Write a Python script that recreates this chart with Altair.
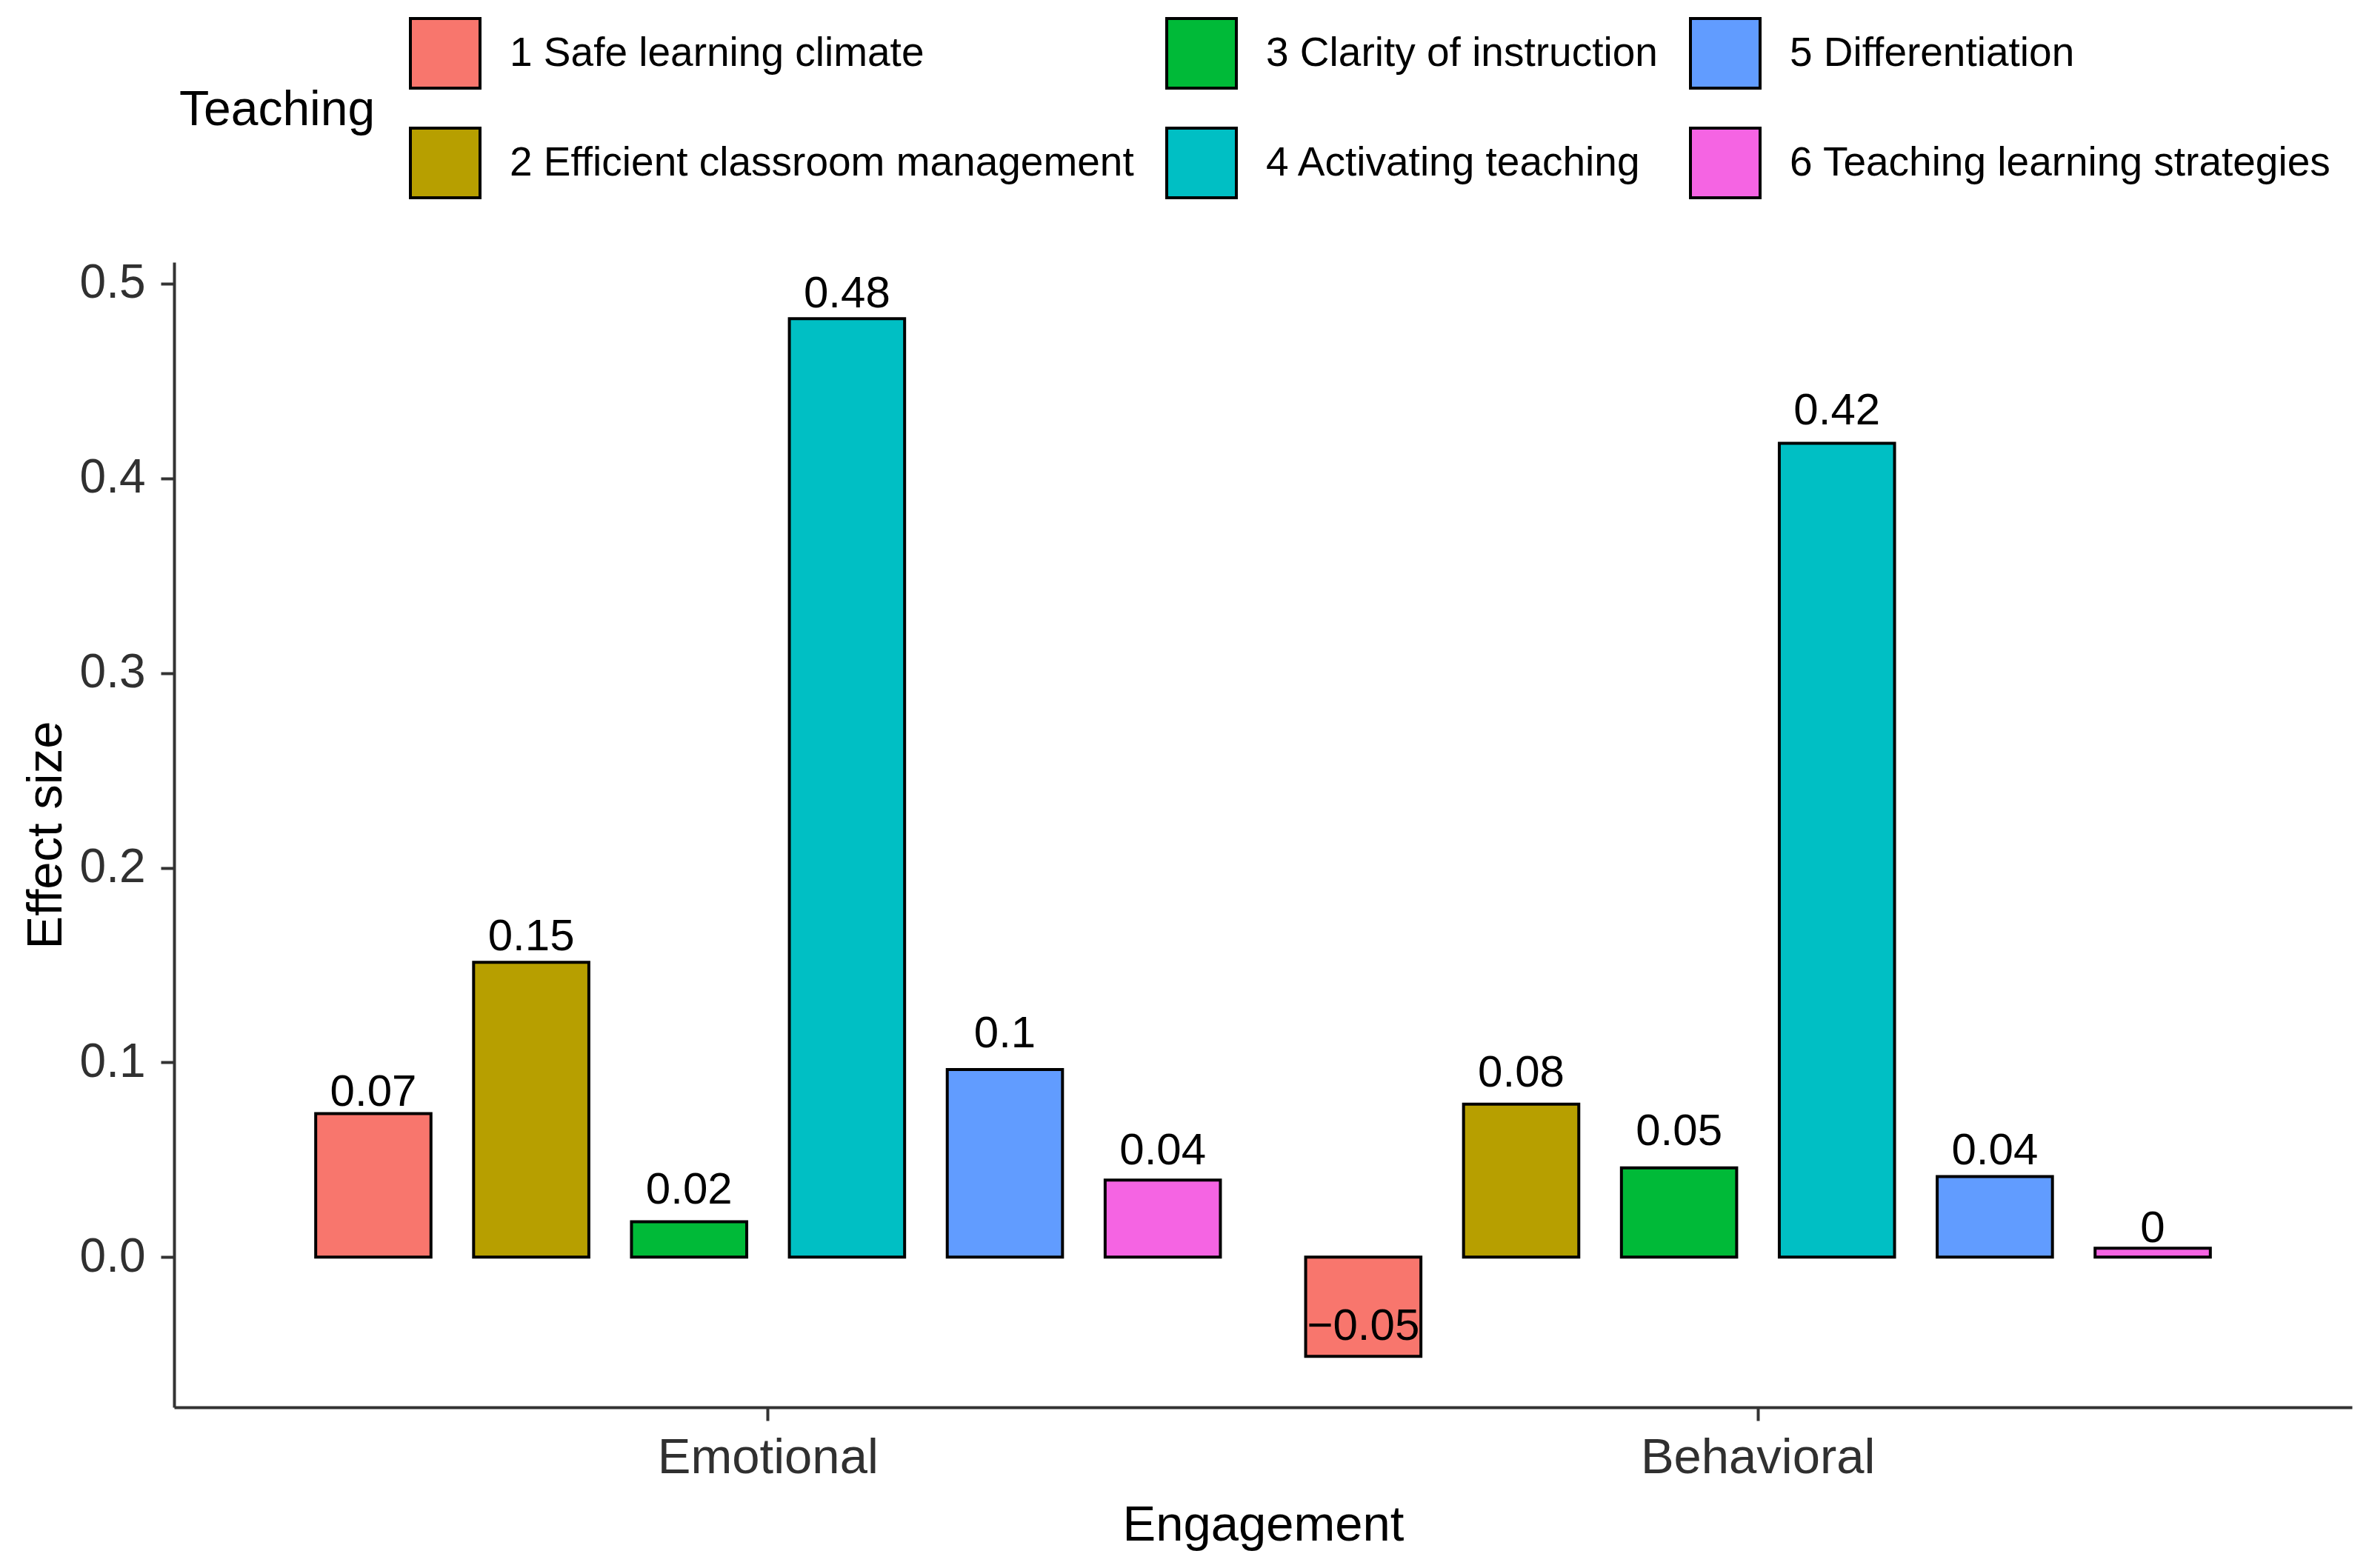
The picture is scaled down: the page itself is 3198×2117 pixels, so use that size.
import altair as alt
import pandas as pd

engagement = ["Emotional", "Behavioral"]
teaching = [
    "1 Safe learning climate",
    "2 Efficient classroom management",
    "3 Clarity of instruction",
    "4 Activating teaching",
    "5 Differentiation",
    "6 Teaching learning strategies",
]
emotional = [0.0737, 0.1514, 0.0182, 0.4820, 0.0964, 0.0396]
behavioral = [-0.0509, 0.0786, 0.0459, 0.4180, 0.0414, 0.0046]
colors = ["#F8766D", "#B79F00", "#00BA38", "#00BFC4", "#619CFF", "#F564E3"]
y_ticks = [0.0, 0.1, 0.2, 0.3, 0.4, 0.5]

rows = []
for eng, vals in zip(engagement, [emotional, behavioral]):
    for t, v in zip(teaching, vals):
        rows.append({"Engagement": eng, "Teaching": t, "value": v, "label": round(v, 2)})
df = pd.DataFrame(rows)

# vega fills legend rows first, so put 1,3,5 on top and 2,4,6 below
legend_order = teaching[0::2] + teaching[1::2]
legend_colors = colors[0::2] + colors[1::2]

FONT = "Liberation Sans"

y_scale = alt.Scale(domain=[-0.0771, 0.511], nice=False, zero=False)
y_axis = alt.Axis(values=y_ticks, format=".1f", labelFontSize=64, titleFontSize=67,
                  labelPadding=21, titlePadding=11)

base = alt.Chart(df).encode(
    x=alt.X("Engagement:N", sort=engagement, title="Engagement",
            scale=alt.Scale(paddingInner=0, paddingOuter=0.1),
            axis=alt.Axis(labelAngle=0, labelFontSize=67, titleFontSize=67, labelLimit=1000,
                          labelPadding=17, titlePadding=25)),
    xOffset=alt.XOffset("Teaching:N", sort=teaching,
                        scale=alt.Scale(paddingInner=0.27, paddingOuter=0.27)),
)

bars = base.mark_bar(stroke="black", strokeWidth=4).encode(
    y=alt.Y("value:Q", title="Effect size", scale=y_scale, axis=y_axis),
    color=alt.Color(
        "Teaching:N",
        scale=alt.Scale(domain=legend_order, range=legend_colors),
        legend=alt.Legend(
            orient="none", legendX=7, legendY=-331, direction="horizontal", columns=3,
            title="Teaching", titleOrient="left", titleAnchor="middle", titleBaseline="middle",
            titleFontSize=66, titleFont=FONT, titleFontWeight="normal", titlePadding=45,
            titleColor="black", titleLimit=1000,
            symbolType="square", symbolSize=8836, symbolStrokeColor="black",
            symbolStrokeWidth=4, symbolOpacity=1,
            labelFont=FONT, labelFontSize=55, labelColor="black", labelOffset=38,
            labelLimit=2000, columnPadding=36, rowPadding=38,
        ),
    ),
)

labels = base.mark_text(fontSize=60, font=FONT, baseline="alphabetic", dy=-20, color="black").encode(
    y=alt.Y("label:Q", title="Effect size", scale=y_scale, axis=y_axis),
    text=alt.Text("label:Q", format=".2~f"),
)

chart = (bars + labels).properties(
    width=2940,
    height=1546,
    padding={"left": 227, "top": 346, "right": 15, "bottom": 209},
    autosize=alt.AutoSizeParams(type="none"),
).configure_axis(
    labelFont=FONT, titleFont=FONT, titleFontWeight="normal", grid=False,
    domainColor="#333333", domainWidth=4, tickColor="#333333", tickWidth=4, tickSize=18,
    labelColor="#303030", titleColor="black",
).configure_view(stroke=None)

chart.save("out.html", embed_options={"renderer": "svg", "actions": False})
